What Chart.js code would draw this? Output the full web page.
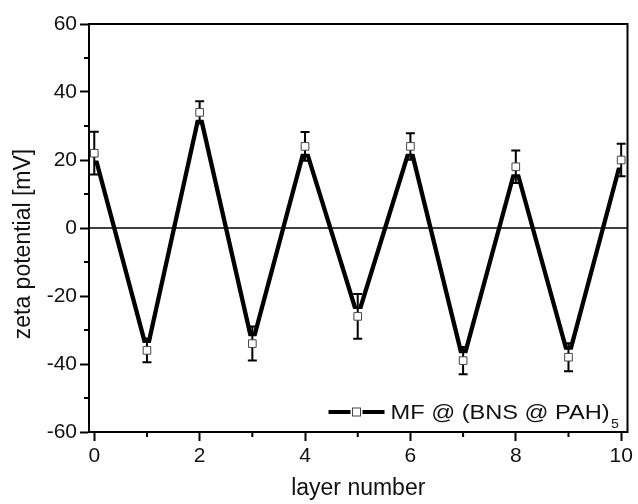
<!DOCTYPE html>
<html>
<head>
<meta charset="utf-8">
<script src="https://cdn.jsdelivr.net/npm/chart.js@4"></script>
<style>
  html, body { margin: 0; padding: 0; background: #fff; }
  #wrap { width: 638px; height: 504px; }
</style>
</head>
<body>
<div id="wrap"><canvas id="zetaChart"></canvas></div>
<script>
// --- DATA ---
const layers = [0, 1, 2, 3, 4, 5, 6, 7, 8, 9, 10];
const zeta = [22, -36, 34, -34, 24, -26, 24, -39, 18, -38, 20];
const zetaErr = [6.3, 3.5, 3.3, 5, 4.2, 6.6, 3.9, 4, 4.8, 4.1, 4.8];
const xMinor = [1, 3, 5, 7, 9];
const yMinor = [-50, -30, -10, 10, 30, 50];
const seriesLabel = 'MF @ (BNS @ PAH)';
const seriesSub = '5';
const yTitle = 'zeta potential [mV]';

const FONT = 'Liberation Sans, Arial, Helvetica, sans-serif';
const points = layers.map((x, i) => ({ x: x, y: zeta[i] }));

// --- PLUGINS: frame, zero line, minor ticks, error bars, legend, y title ---
const decor = {
    id: 'decor',
    beforeDatasetsDraw(chart) {
        const { ctx, chartArea: a, scales: { y } } = chart;
        const y0 = y.getPixelForValue(0);
        ctx.save();
        ctx.strokeStyle = '#000';
        ctx.lineWidth = 1.6;
        ctx.beginPath();
        ctx.moveTo(a.left, y0);
        ctx.lineTo(a.right, y0);
        ctx.stroke();
        ctx.restore();
    },
    afterDatasetDraw(chart, args) {
        // error bars sit above the white gap squares, under the open markers
        if (args.index !== 1) return;
        const { ctx, scales: { x, y } } = chart;
        ctx.save();
        ctx.strokeStyle = '#000';
        ctx.lineWidth = 2;
        layers.forEach((v, i) => {
            const px = x.getPixelForValue(v);
            const top = y.getPixelForValue(zeta[i] + zetaErr[i]);
            const bot = y.getPixelForValue(zeta[i] - zetaErr[i]);
            ctx.beginPath();
            ctx.moveTo(px, top); ctx.lineTo(px, bot);
            ctx.moveTo(px - 4.5, top); ctx.lineTo(px + 4.5, top);
            ctx.moveTo(px - 4.5, bot); ctx.lineTo(px + 4.5, bot);
            ctx.stroke();
        });
        ctx.restore();
    },
    afterDraw(chart) {
        const { ctx, chartArea: a, scales: { x, y } } = chart;
        ctx.save();
        ctx.strokeStyle = '#000';
        ctx.lineWidth = 2;
        ctx.strokeRect(a.left, a.top, a.right - a.left, a.bottom - a.top);

        // minor ticks
        ctx.beginPath();
        xMinor.forEach(v => {
            const px = x.getPixelForValue(v);
            ctx.moveTo(px, a.bottom); ctx.lineTo(px, a.bottom + 5);
        });
        yMinor.forEach(v => {
            const py = y.getPixelForValue(v);
            ctx.moveTo(a.left, py); ctx.lineTo(a.left - 5, py);
        });
        ctx.stroke();

        // legend inside the plot, bottom right
        const ly = a.bottom - 20;
        const lx = a.right - 299;
        ctx.lineWidth = 4;
        ctx.beginPath();
        ctx.moveTo(lx, ly); ctx.lineTo(lx + 22, ly);
        ctx.moveTo(lx + 34, ly); ctx.lineTo(lx + 56, ly);
        ctx.stroke();
        ctx.lineWidth = 1;
        ctx.strokeStyle = '#444';
        ctx.fillStyle = '#fff';
        ctx.fillRect(lx + 24, ly - 4, 8, 8);
        ctx.strokeRect(lx + 24, ly - 4, 8, 8);

        ctx.fillStyle = '#111';
        ctx.textBaseline = 'alphabetic';
        ctx.save();
        ctx.font = '20px ' + FONT;
        ctx.translate(lx + 62, 0);
        ctx.scale(1.18, 1);
        ctx.fillText(seriesLabel, 0, ly + 7);
        const w = ctx.measureText(seriesLabel).width;
        ctx.font = '12px ' + FONT;
        ctx.fillText(seriesSub, w + 1, ly + 16);
        ctx.restore();

        // y axis title
        ctx.save();
        ctx.font = '23px ' + FONT;
        ctx.textAlign = 'center';
        ctx.textBaseline = 'middle';
        ctx.translate(24, 244);
        ctx.rotate(-Math.PI / 2);
        ctx.fillText(yTitle, 0, 0);
        ctx.restore();

        ctx.restore();
    }
};

// --- CHART ---
const ctx = document.getElementById('zetaChart').getContext('2d');

const axisCommon = {
    type: 'linear',
    grid: { drawOnChartArea: false, drawTicks: true, tickLength: 9, tickWidth: 2, tickColor: '#000', color: '#000' },
    border: { display: true, color: '#000', width: 2 },
    ticks: { color: '#111', font: { family: FONT, size: 21 }, padding: 3, includeBounds: false }
};

new Chart(ctx, {
    type: 'line',
    data: {
        datasets: [
            {
                label: 'line',
                data: points,
                borderColor: '#000',
                borderWidth: 4.3,
                pointRadius: 0,
                tension: 0,
                fill: false,
                order: 3
            },
            {
                label: 'gap',
                data: points,
                showLine: false,
                pointStyle: 'rect',
                pointRadius: 10.5,
                pointBackgroundColor: '#fff',
                pointBorderWidth: 0,
                pointBorderColor: '#fff',
                clip: -2,
                order: 2
            },
            {
                label: seriesLabel,
                data: points,
                showLine: false,
                pointStyle: 'rect',
                pointRadius: 5.4,
                pointBackgroundColor: '#fff',
                pointBorderColor: '#444',
                pointBorderWidth: 1,
                order: 1
            }
        ]
    },
    options: {
        responsive: true,
        maintainAspectRatio: false,
        animation: false,
        layout: { padding: { left: 0, top: 24, right: 7, bottom: 0 } },
        scales: {
            x: {
                ...axisCommon,
                min: -0.1,
                max: 10.12,
                ticks: { ...axisCommon.ticks, stepSize: 2 },
                title: { display: true, text: 'layer number', color: '#111', font: { family: FONT, size: 23 }, padding: { top: 6, bottom: 2 } },
                afterFit(scale) { scale.height = 72; }
            },
            y: {
                ...axisCommon,
                min: -60,
                max: 60,
                ticks: { ...axisCommon.ticks, stepSize: 20 },
                title: { display: false },
                afterFit(scale) { scale.width = 89; }
            }
        },
        plugins: {
            legend: { display: false },
            tooltip: { enabled: false }
        }
    },
    plugins: [decor]
});
</script>
</body>
</html>
